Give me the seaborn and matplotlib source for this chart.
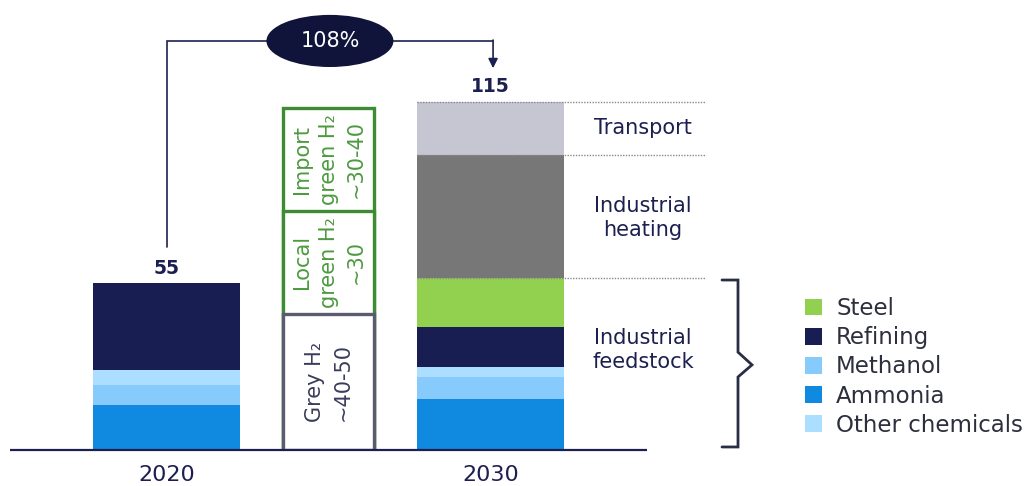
import matplotlib
matplotlib.use("Agg")
import matplotlib.pyplot as plt
from matplotlib.patches import Ellipse
import seaborn as sns
import pandas as pd
import numpy as np

# ---- data -------------------------------------------------------------
columns = ["2020", "Supply", "2030"]
segments = ["Ammonia", "Methanol", "Other chemicals", "Refining",
            "Steel", "Industrial heating", "Transport"]
demand_2020 = [14.7, 6.9, 4.9, 28.5, 0.0, 0.0, 0.0]
demand_2030 = [16.9, 7.3, 3.1, 13.2, 16.4, 40.6, 17.5]
total_labels = ["55", "115"]
supply_names = ["Grey", "Local green", "Import green"]
supply_values = [45, 34, 34]
supply_texts = ["Grey H₂\n~40-50", "Local\ngreen H₂\n~30", "Import\ngreen H₂\n~30-40"]
growth_text = "108%"
use_groups = ["Industrial\nfeedstock", "Industrial\nheating", "Transport"]
legend_order = ["Steel", "Refining", "Methanol", "Ammonia", "Other chemicals"]

# ---- styling ----------------------------------------------------------
NAVY = "#1c2050"
seg_colors = {
    "Ammonia": "#1089e0",
    "Methanol": "#86cbfb",
    "Other chemicals": "#acdeff",
    "Refining": "#181d52",
    "Steel": "#92d050",
    "Industrial heating": "#777777",
    "Transport": "#c5c6d1",
}
supply_edge = {"Grey": "#5b5b70", "Local green": "#3d8b33", "Import green": "#3d8b33"}
supply_text_color = {"Grey": "#3a3d5a", "Local green": "#4c9a3e", "Import green": "#4c9a3e"}

sns.set_theme(style="white")
plt.rcParams["font.family"] = ["DejaVu Sans"]

W, H, DPI = 1034, 486, 100
fig = plt.figure(figsize=(W / DPI, H / DPI), dpi=DPI)
ax = fig.add_axes([0, 36 / H, 1, 450 / H])

BAR_W = 0.907
SUP_W = 0.56

# long table of stacked demand segments
rows = []
for col, vals in (("2020", demand_2020), ("2030", demand_2030)):
    cum = np.cumsum(vals)
    for seg, v, top in zip(segments, vals, cum):
        rows.append({"column": col, "segment": seg, "value": v,
                     "top": top, "bottom": top - v})
demand = pd.DataFrame(rows)

# stacked bars: draw cumulative tops from the highest layer downwards
for seg in reversed(segments):
    sub = demand[(demand.segment == seg) & (demand.value > 0)]
    sns.barplot(data=sub, x="column", y="top", order=columns,
                color=seg_colors[seg], saturation=1, width=BAR_W,
                errorbar=None, linewidth=0, label=seg, ax=ax)

# supply boxes (outlined, stacked)
sup = pd.DataFrame({"column": "Supply", "name": supply_names,
                    "value": supply_values})
sup["top"] = sup["value"].cumsum()
sup["bottom"] = sup["top"] - sup["value"]
for _, r in sup[::-1].iterrows():
    sns.barplot(data=sup[sup.name == r["name"]], x="column", y="top",
                order=columns, color="white", saturation=1, width=SUP_W,
                errorbar=None, edgecolor=supply_edge[r["name"]],
                linewidth=2.4, ax=ax)
for (_, r), txt in zip(sup.iterrows(), supply_texts):
    ax.text(1, (r["bottom"] + r["top"]) / 2, txt, rotation=90,
            ha="center", va="center", multialignment="center",
            fontsize=15, color=supply_text_color[r["name"]],
            linespacing=1.45, zorder=5)

# axes scale
PX = 3.03
ax.set_xlim((0 - 166.8) / 162, (W - 166.8) / 162)
ax.set_ylim(0, 450 / PX)
for s in ax.spines.values():
    s.set_visible(False)
ax.set_ylabel("")
ax.set_xlabel("")
ax.set_yticks([])
ax.set_xticks([0, 2], ["2020", "2030"])
ax.tick_params(axis="x", length=0, pad=11, labelsize=16, labelcolor=NAVY)

# baseline
ax.hlines(0, (10 - 166.8) / 162, (647 - 166.8) / 162, color=NAVY,
          lw=1.6, clip_on=False, zorder=6)

# totals above bars
tot = demand.groupby("column")["value"].sum()
for xpos, col, lab in ((0, "2020", total_labels[0]), (2, "2030", total_labels[1])):
    ax.annotate(lab, (xpos, tot[col]), xytext=(0, 4), textcoords="offset points",
                ha="center", va="bottom", fontsize=13.5, fontweight="bold",
                color=NAVY)

# growth connector
y_line = 135
ax.plot([0, 0, 2.014, 2.014], [tot["2020"] + 12, y_line, y_line, y_line],
        color=NAVY, lw=1.2, solid_joinstyle="miter", zorder=3)
ax.annotate("", xy=(2.014, 126), xytext=(2.014, y_line + 0.3),
            arrowprops=dict(arrowstyle="-|>", color=NAVY, lw=1.2,
                            mutation_scale=14, shrinkA=0, shrinkB=0))
ax.add_patch(Ellipse((1.007, y_line), 0.784, 17.2, facecolor="#11143a",
                     edgecolor="none", zorder=4))
ax.text(1.007, y_line, growth_text, ha="center", va="center", fontsize=15,
        color="white", zorder=5)

# group separators and labels for 2030
cum30 = np.cumsum(demand_2030)
feed_top = cum30[segments.index("Steel")]
heat_top = cum30[segments.index("Industrial heating")]
total_top = cum30[-1]
x0, x1 = 2 - BAR_W / 2, (706 - 166.8) / 162
ax.hlines([feed_top, heat_top, total_top], x0, x1, colors="#8a8a8a",
          linestyles=(0, (1, 1)), lw=1.0, zorder=6)
xl = (643 - 166.8) / 162
ax.text(xl, (heat_top + total_top) / 2, use_groups[2], ha="center",
        va="center", fontsize=15, color=NAVY)
ax.text(xl, (feed_top + heat_top) / 2 - 0.6, use_groups[1], ha="center",
        va="center", fontsize=15, color=NAVY, linespacing=1.2)
ax.text(xl, 33, use_groups[0], ha="center", va="center", fontsize=15,
        color=NAVY, linespacing=1.2)

# brace around industrial feedstock
bx0, bx1, bx2 = (722 - 166.8) / 162, (738 - 166.8) / 162, (752 - 166.8) / 162
ax.plot([bx0, bx1, bx1, bx2, bx1, bx1, bx0],
        [feed_top - 0.8, feed_top - 0.8, 32.3, 28.1, 24.1, 1.0, 1.0],
        color="#2a2e45", lw=2.0, solid_joinstyle="miter", clip_on=False)

# legend
handles, labels = ax.get_legend_handles_labels()
hmap = dict(zip(labels, handles))
leg = ax.legend([hmap[k] for k in legend_order], legend_order,
                loc="upper left", bbox_to_anchor=(805 / W, 1 - 297 / H),
                bbox_transform=fig.transFigure, frameon=False,
                fontsize=16.5, handlelength=0.74, handleheight=0.74,
                handletextpad=0.62, labelspacing=0.27, borderpad=0,
                borderaxespad=0)
for t in leg.get_texts():
    t.set_color("#2d2f3e")

fig.savefig("out.png", dpi=DPI)
